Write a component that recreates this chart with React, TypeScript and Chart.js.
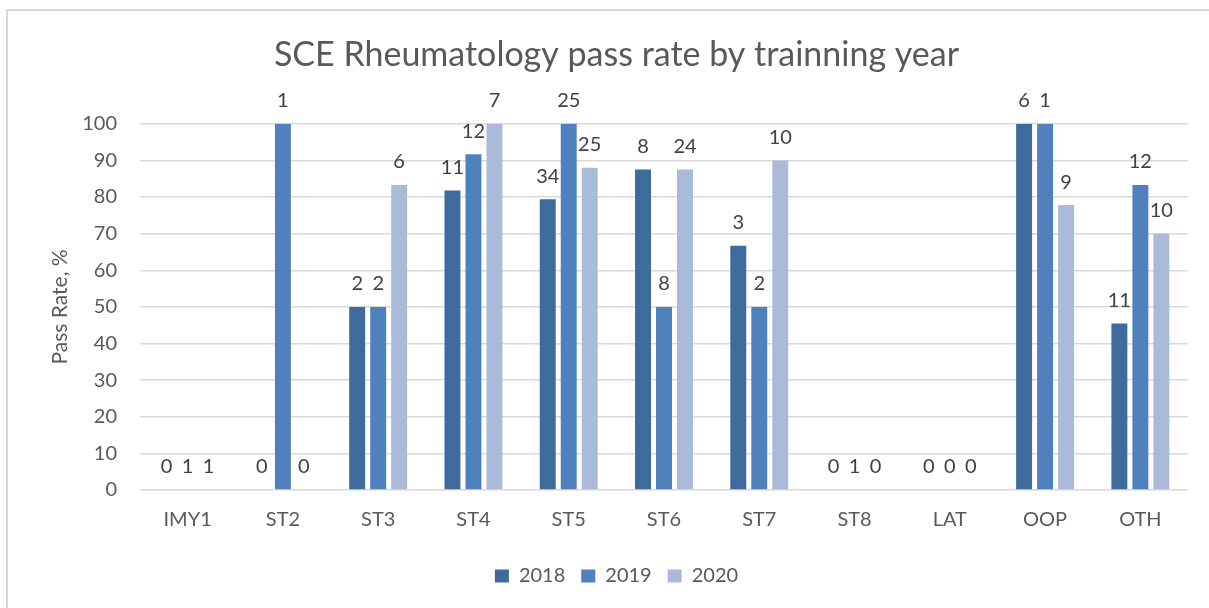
import React, { useEffect, useRef } from "react";
import { Chart, registerables } from "chart.js";

Chart.register(...registerables);

const categories = ["IMY1", "ST2", "ST3", "ST4", "ST5", "ST6", "ST7", "ST8", "LAT", "OOP", "OTH"];
const years = ["2018", "2019", "2020"];
const rate2018 = [0, 0, 50, 81.8, 79.4, 87.5, 66.7, 0, 0, 100, 45.5];
const rate2019 = [0, 100, 50, 91.7, 100, 50, 50, 0, 0, 100, 83.3];
const rate2020 = [0, 0, 83.3, 100, 88, 87.5, 90, 0, 0, 77.8, 70];
const count2018 = [0, 0, 2, 11, 34, 8, 3, 0, 0, 6, 11];
const count2019 = [1, 1, 2, 12, 25, 8, 2, 1, 0, 1, 12];
const count2020 = [1, 0, 6, 7, 25, 24, 10, 0, 0, 9, 10];
const yTicks = [0, 10, 20, 30, 40, 50, 60, 70, 80, 90, 100];

const colors = ["#3f6a9c", "#4f81bd", "#abbad8"];
const FONT = "Lato, 'Open Sans', sans-serif";

const countLabels = {
  id: "countLabels",
  afterDatasetsDraw(chart: any) {
    const ctx = chart.ctx;
    const counts = [count2018, count2019, count2020];
    ctx.save();
    ctx.font = `20px ${FONT}`;
    ctx.fillStyle = "#404040";
    ctx.textAlign = "center";
    ctx.textBaseline = "middle";
    chart.data.datasets.forEach((ds: any, di: number) => {
      const meta = chart.getDatasetMeta(di);
      meta.data.forEach((el: any, i: number) => {
        ctx.fillText(String(counts[di][i]), el.x, el.y - 23);
      });
    });
    ctx.restore();
  },
};

export default function App() {
  const ref = useRef<HTMLCanvasElement>(null);
  useEffect(() => {
    const chart = new Chart(ref.current!, {
      type: "bar",
      data: {
        labels: categories,
        datasets: [rate2018, rate2019, rate2020].map((d, i) => ({
          label: years[i],
          data: d,
          backgroundColor: colors[i],
          borderWidth: 0,
          categoryPercentage: 0.661,
          barPercentage: 0.76,
        })),
      },
      options: {
        animation: false,
        responsive: false,
        maintainAspectRatio: false,
        layout: { padding: { left: 45, right: 21, top: 10, bottom: 12 } },
        plugins: {
          title: {
            display: true,
            text: "SCE Rheumatology pass rate by trainning year",
            color: "#595959",
            font: { family: FONT, size: 34, weight: "normal" },
            padding: { top: 25, bottom: 48 },
          },
          legend: {
            position: "bottom",
            labels: {
              color: "#595959",
              font: { family: FONT, size: 20 },
              boxWidth: 14,
              boxHeight: 13,
              padding: 16,
            },
          },
          tooltip: { enabled: false },
        },
        scales: {
          x: {
            grid: { display: false, drawTicks: false },
            border: { display: false },
            ticks: { color: "#595959", font: { family: FONT, size: 20 }, padding: 18 },
            afterFit: (s: any) => {
              s.height = 60;
            },
          },
          y: {
            min: 0,
            max: 100,
            afterBuildTicks: (s: any) => {
              s.ticks = yTicks.map((v) => ({ value: v }));
            },
            grid: { color: "#d9d9d9", lineWidth: 1.5, drawTicks: false },
            border: { display: false },
            ticks: { color: "#595959", font: { family: FONT, size: 20 }, padding: 23 },
            title: {
              display: true,
              text: "Pass Rate, %",
              color: "#595959",
              font: { family: FONT, size: 21, weight: "normal" },
              padding: { top: 3, bottom: 0 },
            },
            afterFit: (s: any) => {
              s.width = 95;
            },
          },
        },
      },
      plugins: [countLabels],
    });
    return () => chart.destroy();
  }, []);
  return (
    <div style={{ position: "fixed", left: 0, top: 0, width: 1209, height: 608, background: "#fff", overflow: "hidden" }}>
      <canvas ref={ref} width={1209} height={608} style={{ position: "absolute", left: 0, top: 0 }} />
      <div
        style={{
          position: "absolute",
          left: 6,
          top: 9,
          width: 1300,
          height: 700,
          borderLeft: "2px solid #d9d9d9",
          borderTop: "2px solid #d9d9d9",
          pointerEvents: "none",
        }}
      />
    </div>
  );
}
